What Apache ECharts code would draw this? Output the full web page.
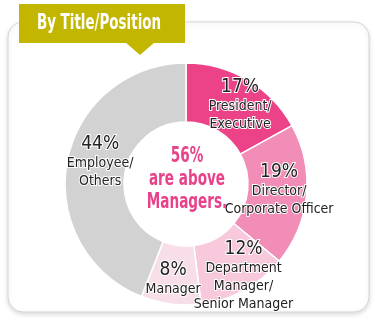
<!DOCTYPE html>
<html><head><meta charset="utf-8">
<script src="https://cdn.jsdelivr.net/npm/echarts@6/dist/echarts.min.js"></script>
<style>html,body{margin:0;padding:0;background:#fff}#c{width:375px;height:321px}</style>
</head><body><div id="c"></div>
<script>
const titleText = 'By Title/Position';
const categories = ['President/\nExecutive', 'Director/\nCorporate Officer', 'Department\nManager/\nSenior Manager', 'Manager', 'Employee/\nOthers'];
const values = [17, 19, 12, 8, 44];
const colors = ['#EC4388', '#F28DB7', '#F8C8DC', '#F7DEE9', '#D1D2D1'];
const centerLines = ['56%', 'are above', 'Managers.'];

const FONT = '"Liberation Sans Narrow","DejaVu Sans Condensed","Roboto Condensed",Roboto,sans-serif';
const chart = echarts.init(document.getElementById('c'));
const labelShift = [[6, 2], [-1, -3], [12, 9], [-1, 1], [7, -4]];
chart.setOption({
  animation: false,
  graphic: [
    { type: 'rect', shape: { x: 8, y: 22, width: 361, height: 290, r: 15 }, style: { fill: '#fff', stroke: '#d6d6d6', lineWidth: 1, shadowBlur: 5, shadowColor: 'rgba(0,0,0,0.15)', shadowOffsetY: 2 }, z: -10 },
    { type: 'rect', shape: { x: 19, y: 4, width: 166, height: 39 }, style: { fill: '#C2B600' }, z: 10 },
    { type: 'polygon', shape: { points: [[125, 42], [155, 42], [140, 55]] }, style: { fill: '#C2B600' }, z: 10 },
    { type: 'text', x: 99, y: 23, scaleX: 0.68, style: { text: titleText, fill: '#fff', font: 'bold 22px ' + FONT, textAlign: 'center', textVerticalAlign: 'middle' }, z: 11 },
    { type: 'text', x: 187, y: 180, scaleX: 0.72, style: { text: centerLines.join('\n'), fill: '#E8428A', font: 'bold 21px ' + FONT, textAlign: 'center', textVerticalAlign: 'middle', lineHeight: 23 }, z: 11 }
  ],
  series: [{
    type: 'pie',
    center: [186, 184],
    radius: [62, 121],
    startAngle: 90,
    clockwise: true,
    avoidLabelOverlap: false,
    itemStyle: { borderColor: '#fff', borderWidth: 1.5 },
    label: {
      position: 'inside',
      formatter: p => '{p|' + p.value + '%}\n{n|' + p.name.split('\n').join('}\n{n|') + '}',
      rich: {
        p: { fontFamily: FONT, fontSize: 19, lineHeight: 21, color: '#222', textBorderColor: '#fff', textBorderWidth: 2 },
        n: { fontFamily: FONT, fontSize: 14, lineHeight: 18, color: '#222', textBorderColor: '#fff', textBorderWidth: 2 }
      }
    },
    labelLayout: p => ({ dx: labelShift[p.dataIndex][0], dy: labelShift[p.dataIndex][1] }),
    labelLine: { show: false },
    emphasis: { disabled: true },
    data: categories.map((c, i) => ({ name: c, value: values[i], itemStyle: { color: colors[i] } }))
  }]
});
</script></body></html>
